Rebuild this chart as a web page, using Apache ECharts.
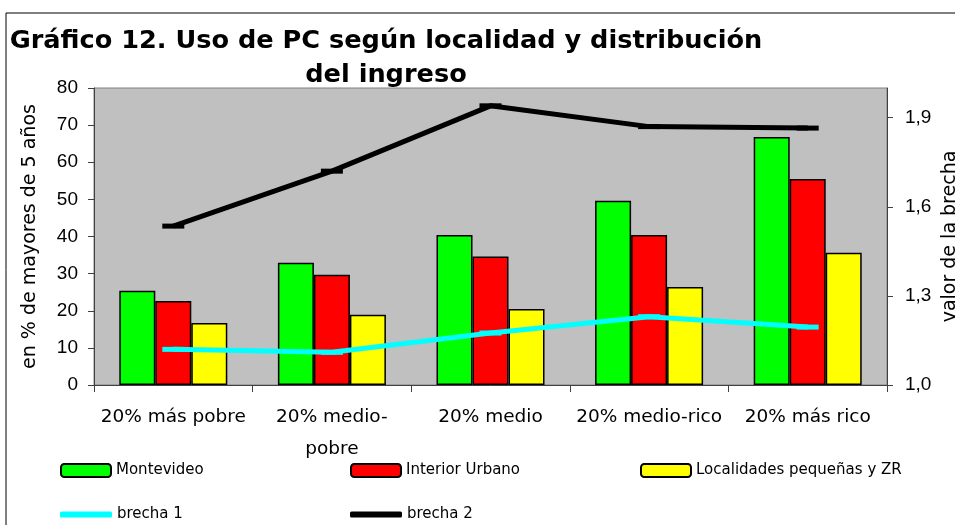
<!DOCTYPE html>
<html>
<head>
<meta charset="utf-8">
<script src="https://cdn.jsdelivr.net/npm/echarts@6/dist/echarts.min.js"></script>
<style>
  html, body { margin: 0; padding: 0; background: #fff; }
  #main { width: 955px; height: 525px; }
</style>
</head>
<body>
<div id="main"></div>
<script>
// datos
const categories = ['20% más pobre', '20% medio-pobre', '20% medio', '20% medio-rico', '20% más rico'];
const montevideo = [25.4, 32.9, 40.4, 49.6, 66.8];
const interiorUrbano = [22.6, 29.7, 34.6, 40.4, 55.5];
const localidades = [16.7, 18.9, 20.5, 26.4, 35.6];
const brecha1 = [1.12, 1.11, 1.175, 1.23, 1.195];
const brecha2 = [1.535, 1.72, 1.94, 1.87, 1.865];
const leftTicks = [0, 10, 20, 30, 40, 50, 60, 70, 80];
const rightTicks = ['1,0', '1,3', '1,6', '1,9'];

const font = 'Liberation Sans, Arial, sans-serif';
const wide = 'DejaVu Sans';
const chart = echarts.init(document.getElementById('main'));

const barStyle = (c) => ({ color: c, borderColor: '#000', borderWidth: 1.5 });
const legendText = { fontFamily: wide, fontSize: 15, color: '#000' };

const option = {
  animation: false,
  backgroundColor: '#fff',
  title: {
    text: 'Gráfico 12. Uso de PC según localidad y distribución\ndel ingreso',
    left: 381,
    top: 19,
    textAlign: 'center',
    textStyle: { fontFamily: wide, fontWeight: 'bold', fontSize: 25.6, lineHeight: 34, color: '#000' }
  },
  graphic: [{
    type: 'rect',
    shape: { x: 6, y: 13, width: 980, height: 540 },
    style: { fill: null, stroke: '#000', lineWidth: 1 },
    silent: true
  }],
  grid: {
    left: 94, right: 68, top: 88, bottom: 140,
    outerBoundsMode: 'none',
    show: true, backgroundColor: '#c0c0c0', borderColor: '#808080', borderWidth: 1
  },
  legend: [
    { data: ['Montevideo'], left: 60, top: 463, padding: 0, itemWidth: 50, itemHeight: 13, textStyle: legendText },
    { data: ['Interior Urbano'], left: 350, top: 463, padding: 0, itemWidth: 50, itemHeight: 13, textStyle: legendText },
    { data: ['Localidades pequeñas y ZR'], left: 640, top: 463, padding: 0, itemWidth: 50, itemHeight: 13, textStyle: legendText },
    { data: [{ name: 'brecha 1', icon: 'roundRect' }], left: 60, top: 507, padding: 0, itemWidth: 52, itemHeight: 6, textStyle: legendText,
      itemStyle: { borderWidth: 0 } },
    { data: [{ name: 'brecha 2', icon: 'roundRect' }], left: 350, top: 507, padding: 0, itemWidth: 52, itemHeight: 6, textStyle: legendText,
      itemStyle: { borderWidth: 0 } }
  ],
  xAxis: {
    type: 'category',
    data: categories,
    axisLine: { lineStyle: { color: '#404040', width: 1 } },
    axisTick: { show: true, length: 7, interval: 0, lineStyle: { color: '#404040' } },
    axisLabel: {
      interval: 0,
      fontFamily: wide, fontSize: 18.5, color: '#000', margin: 16, lineHeight: 32,
      formatter: (v) => v.replace('medio-pobre', 'medio-\npobre')
    }
  },
  yAxis: [{
    type: 'value',
    min: 0, max: 80, interval: 10,
    name: 'en % de mayores de 5 años',
    nameLocation: 'middle',
    nameGap: 54,
    nameMoveOverlap: false,
    nameTextStyle: { fontFamily: wide, fontSize: 19, color: '#000' },
    axisLine: { show: true, lineStyle: { color: '#404040' } },
    axisTick: { show: true, length: 6, lineStyle: { color: '#404040' } },
    splitLine: { show: false },
    axisLabel: {
      fontFamily: font, fontSize: 19, color: '#000', margin: 16,
      formatter: (v) => leftTicks.indexOf(v) >= 0 ? String(v) : ''
    }
  }, {
    type: 'value',
    min: 1.0, max: 2.0, interval: 0.3,
    name: 'valor de la brecha',
    nameLocation: 'middle',
    nameGap: 54,
    nameRotate: 90,
    nameMoveOverlap: false,
    nameTextStyle: { fontFamily: wide, fontSize: 19, color: '#000' },
    axisLine: { show: true, lineStyle: { color: '#404040' } },
    axisTick: { show: true, length: 6, lineStyle: { color: '#404040' } },
    splitLine: { show: false },
    axisLabel: {
      fontFamily: font, fontSize: 19, color: '#000', margin: 18, showMaxLabel: false,
      formatter: (v) => rightTicks[Math.round((v - 1) / 0.3)] || ''
    }
  }],
  series: [
    { name: 'Montevideo', type: 'bar', data: montevideo, barWidth: 36, barGap: '0%', itemStyle: barStyle('#00ff00') },
    { name: 'Interior Urbano', type: 'bar', data: interiorUrbano, barWidth: 36, barGap: '0%', itemStyle: barStyle('#ff0000') },
    { name: 'Localidades pequeñas y ZR', type: 'bar', data: localidades, barWidth: 36, barGap: '0%', itemStyle: barStyle('#ffff00') },
    { name: 'brecha 1', type: 'line', yAxisIndex: 1, data: brecha1,
      lineStyle: { color: '#00ffff', width: 5 }, itemStyle: { color: '#00ffff' },
      symbol: 'rect', symbolSize: [22, 5], z: 5 },
    { name: 'brecha 2', type: 'line', yAxisIndex: 1, data: brecha2,
      lineStyle: { color: '#000', width: 5 }, itemStyle: { color: '#000' },
      symbol: 'rect', symbolSize: [22, 5], z: 5 }
  ]
};
chart.setOption(option);
</script>
</body>
</html>
